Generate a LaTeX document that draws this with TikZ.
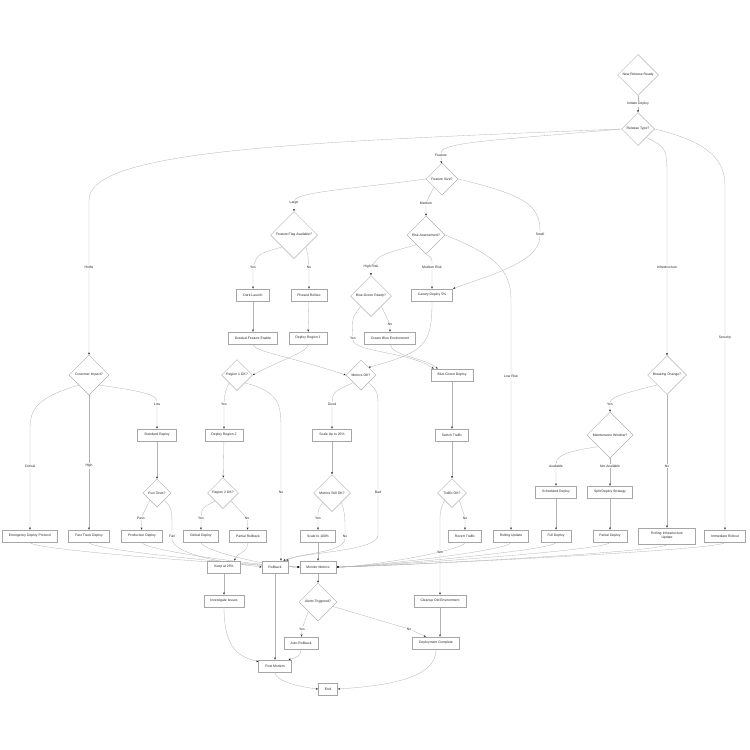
\documentclass[tikz,border=0pt]{standalone}
\usepackage{fontspec}
\setmainfont{Liberation Sans}
\usetikzlibrary{shapes.geometric,arrows.meta}
\pgfdeclarelayer{edges}
\pgfsetlayers{edges,main}

\begin{document}
\begin{tikzpicture}[x=1pt, y=1pt,
    every node/.style={font=\fontsize{3.4}{4.2}\selectfont, text=black!85},
    box/.style={rectangle, draw=black!35, line width=0.75pt, fill=white, minimum height=12pt, inner xsep=6.5pt, inner ysep=1pt},
    decision/.style={diamond, aspect=1, draw=black!30, line width=0.5pt, fill=white, inner sep=0pt, minimum size=#1},
    lbl/.style={inner sep=0.8pt},
    flow/.style={draw=black!30, line width=0.3pt, -{Stealth[length=2.2pt, width=1.9pt, color=black!85]}}]
    \useasboundingbox (0,0) rectangle (750,-750);

    % top of the release flow
    \node[decision=41pt] (new) at (638,-75) {New Release Ready};
    \node[decision=33pt] (rtype) at (638,-129) {Release Type?};
    \node[decision=32pt] (fsize) at (442,-179) {Feature Size?};
    \node[decision=47pt] (flag) at (294,-235) {Feature Flag Available?};
    \node[decision=38pt] (risk) at (426,-235) {Risk Assessment?};
    \node[box] (dark) at (253,-295) {Dark Launch};
    \node[box] (phased) at (309,-295) {Phased Rollout};
    \node[decision=41pt] (bgready) at (371,-296) {Blue-Green Ready?};
    \node[box] (canary) at (432,-295) {Canary Deploy 5\%};
    \node[box] (gradual) at (253,-338) {Gradual Feature Enable};
    \node[box] (region1) at (308,-338) {Deploy Region 1};
    \node[box] (createblue) at (390,-338) {Create Blue Environment};

    % middle
    \node[decision=40pt] (impact) at (89,-375) {Customer Impact?};
    \node[decision=31pt] (r1ok) at (237,-375) {Region 1 OK?};
    \node[decision=30pt] (metricsok) at (361,-375) {Metrics OK?};
    \node[box] (bgdeploy) at (452,-375) {Blue-Green Deploy};
    \node[decision=39pt] (brk) at (667,-375) {Breaking Change?};
    \node[box] (standard) at (157,-435) {Standard Deploy};
    \node[box] (region2) at (224,-435) {Deploy Region 2};
    \node[box] (scale25) at (332,-435) {Scale Up to 25\%};
    \node[box] (switch) at (452,-435) {Switch Traffic};
    \node[decision=46pt] (maint) at (610,-435) {Maintenance Window?};
    \node[decision=28pt] (tests) at (157,-493) {Run Tests?};
    \node[decision=31pt] (r2ok) at (223,-493) {Region 2 OK?};
    \node[decision=37pt] (stillok) at (332,-493) {Metrics Still OK?};
    \node[decision=29pt] (trafficok) at (452,-493) {Traffic OK?};
    \node[box] (sched) at (556,-492) {Scheduled Deploy};
    \node[box] (split) at (610,-492) {Split Deploy Strategy};

    % row of deploy steps
    \node[box] (emerg) at (30,-536) {Emergency Deploy Protocol};
    \node[box] (fast) at (89,-536) {Fast Track Deploy};
    \node[box] (prod) at (142,-536) {Production Deploy};
    \node[box] (global) at (201,-536) {Global Deploy};
    \node[box] (partrb) at (248,-536) {Partial Rollback};
    \node[box] (scale100) at (318,-536) {Scale to 100\%};
    \node[box] (revert) at (465,-536) {Revert Traffic};
    \node[box] (rolling) at (511,-536) {Rolling Update};
    \node[box] (full) at (556,-536) {Full Deploy};
    \node[box] (partdep) at (610,-536) {Partial Deploy};
    \node[box, text width=44pt, align=center, minimum height=16pt] (infraupd) at (667,-536) {Rolling Infrastructure\\Update};
    \node[box] (immed) at (725,-536) {Immediate Rollout};

    % bottom
    \node[box] (keep25) at (224,-567) {Keep at 25\%};
    \node[box] (rollback) at (275,-567) {Rollback};
    \node[box] (monitor) at (318,-567) {Monitor Metrics};
    \node[box] (investigate) at (224,-601) {Investigate Issues};
    \node[decision=38pt] (alerts) at (318,-602) {Alerts Triggered?};
    \node[box] (cleanup) at (440,-601) {Cleanup Old Environment};
    \node[box] (autorb) at (301,-643) {Auto Rollback};
    \node[box] (complete) at (436,-643) {Deployment Complete};
    \node[box] (postmortem) at (275,-666) {Post Mortem};
    \node[box] (finish) at (328,-689) {End};

    % edge labels
    \node[lbl] (lInit) at (638,-104) {Initiate Deploy};
    \node[lbl] (lHotfix) at (89,-267) {Hotfix};
    \node[lbl] (lFeature) at (441,-155) {Feature};
    \node[lbl] (lInfra) at (667,-267) {Infrastructure};
    \node[lbl] (lSec) at (725,-338) {Security};
    \node[lbl] (lLarge) at (294,-203) {Large};
    \node[lbl] (lMedium) at (426,-203) {Medium};
    \node[lbl] (lSmall) at (540,-234) {Small};
    \node[lbl] (lYesFlag) at (253,-267) {Yes};
    \node[lbl] (lNoFlag) at (309,-267) {No};
    \node[lbl] (lHighRisk) at (371,-267) {High Risk};
    \node[lbl] (lMedRisk) at (432,-267) {Medium Risk};
    \node[lbl] (lLowRisk) at (511,-376) {Low Risk};
    \node[lbl] (lYesBG) at (353,-338) {Yes};
    \node[lbl] (lNoBG) at (390,-324) {No};
    \node[lbl] (lCritical) at (30,-466) {Critical};
    \node[lbl] (lHigh) at (89,-466) {High};
    \node[lbl] (lLow) at (157,-404) {Low};
    \node[lbl] (lYesR1) at (224,-404) {Yes};
    \node[lbl] (lNoR1) at (281,-492) {No};
    \node[lbl] (lPass) at (141,-518) {Pass};
    \node[lbl] (lFail) at (172,-536) {Fail};
    \node[lbl] (lYesR2) at (201,-518) {Yes};
    \node[lbl] (lNoR2) at (247,-518) {No};
    \node[lbl] (lGood) at (332,-404) {Good};
    \node[lbl] (lBad) at (378,-492) {Bad};
    \node[lbl] (lYesStill) at (318,-518) {Yes};
    \node[lbl] (lNoStill) at (345,-536) {No};
    \node[lbl] (lYesTraffic) at (440,-552) {Yes};
    \node[lbl] (lNoTraffic) at (465,-518) {No};
    \node[lbl] (lYesBrk) at (610,-404) {Yes};
    \node[lbl] (lNoBrk) at (667,-466) {No};
    \node[lbl] (lAvail) at (556,-466) {Available};
    \node[lbl] (lNotAvail) at (610,-466) {Not Available};
    \node[lbl] (lYesAlert) at (302,-629) {Yes};
    \node[lbl] (lNoAlert) at (409,-629) {No};

    \begin{pgfonlayer}{edges}
    \fill[white] (0,0) rectangle (750,-750);
    % from the release type
    \draw[flow] (new) -- (lInit) -- (rtype);
    \draw[flow] (rtype.west) .. controls (300,-142) and (89,-150) .. (89,-200) -- (lHotfix) -- (impact);
    \draw[flow] (rtype.west) .. controls (500,-140) and (441,-142) .. (lFeature) -- (fsize);
    \draw[flow] (rtype.south east) .. controls (667,-148) .. (667,-180) -- (lInfra) -- (brk);
    \draw[flow] (rtype.east) .. controls (700,-140) and (725,-155) .. (725,-185) -- (lSec) -- (immed);
    % feature branch
    \draw[flow] (fsize.west) .. controls (360,-188) and (296,-192) .. (lLarge) -- (flag);
    \draw[flow] (fsize.south west) -- (lMedium) -- (risk);
    \draw[flow] (fsize.east) .. controls (525,-195) and (540,-205) .. (lSmall) .. controls (540,-262) and (490,-275) .. (canary.north east);
    \draw[flow] (flag.south west) .. controls (258,-254) .. (lYesFlag) -- (dark);
    \draw[flow] (flag.south east) .. controls (308,-255) .. (lNoFlag) -- (phased);
    \draw[flow] (risk.south west) .. controls (380,-255) .. (lHighRisk) -- (bgready);
    \draw[flow] (risk.south) .. controls (432,-258) .. (lMedRisk) -- (canary);
    \draw[flow] (risk.east) .. controls (495,-255) and (511,-270) .. (511,-300) -- (lLowRisk) -- (rolling);
    \draw[flow] (bgready.south west) .. controls (352,-318) .. (lYesBG) .. controls (354,-352) and (410,-352) .. ([xshift=3pt]bgdeploy.north west);
    \draw[flow] (bgready.south east) -- (lNoBG) -- (createblue);
    \draw[flow] (createblue.south) .. controls (392,-356) and (425,-358) .. ([xshift=7pt]bgdeploy.north west);
    \draw[flow] (dark) -- (gradual);
    \draw[flow] (phased) -- (region1);
    \draw[flow] (gradual.south) .. controls (255,-352) and (285,-355) .. (metricsok.west);
    \draw[flow] (region1.south) .. controls (308,-352) and (285,-358) .. (r1ok.east);
    \draw[flow] (canary.south) .. controls (432,-345) and (425,-352) .. (metricsok.north east);
    \draw[flow] (bgdeploy) -- (switch);
    \draw[flow] (switch) -- (trafficok);
    \draw[flow] (r1ok.south west) .. controls (225,-392) .. (lYesR1) -- (region2);
    \draw[flow] (r1ok.south east) .. controls (280,-392) and (281,-405) .. (281,-430) -- (lNoR1) -- ([xshift=6pt]rollback.north);
    \draw[flow] (region2) -- (r2ok);
    \draw[flow] (r2ok.south west) .. controls (202,-508) .. (lYesR2) -- (global);
    \draw[flow] (r2ok.south east) -- (lNoR2) -- (partrb);
    \draw[flow] (metricsok.south west) .. controls (333,-392) .. (lGood) -- (scale25);
    \draw[flow] (metricsok.south east) .. controls (378,-392) .. (378,-410) -- (lBad) -- (378,-535) .. controls (378,-552) and (300,-552) .. ([xshift=-2pt]rollback.north east);
    \draw[flow] (scale25) -- (stillok);
    \draw[flow] (stillok.south west) .. controls (318,-510) .. (lYesStill) -- (scale100);
    \draw[flow] (stillok.south east) .. controls (345,-514) .. (lNoStill) .. controls (345,-553) and (300,-553) .. ([xshift=-5pt]rollback.north east);
    \draw[flow] (trafficok.south west) .. controls (440,-510) .. (440,-525) -- (lYesTraffic) -- (cleanup);
    \draw[flow] (trafficok.south east) -- (lNoTraffic) -- (revert);
    % hotfix branch
    \draw[flow] (impact.south west) .. controls (35,-398) and (30,-410) .. (30,-430) -- (lCritical) -- (emerg);
    \draw[flow] (impact) -- (lHigh) -- (fast);
    \draw[flow] (impact.south east) .. controls (150,-392) and (157,-396) .. (lLow) -- (standard);
    \draw[flow] (standard) -- (tests);
    \draw[flow] (tests.south west) -- (lPass) -- (prod);
    \draw[flow] (tests.south east) .. controls (172,-508) .. (lFail) .. controls (172,-556) and (235,-564) .. (rollback.west);
    % infrastructure branch
    \draw[flow] (brk.south west) .. controls (625,-393) and (611,-397) .. (lYesBrk) -- (maint);
    \draw[flow] (brk) -- (lNoBrk) -- (infraupd);
    \draw[flow] (maint.south west) .. controls (560,-452) and (556,-458) .. (lAvail) -- (sched);
    \draw[flow] (maint) -- (lNotAvail) -- (split);
    \draw[flow] (sched) -- (full);
    \draw[flow] (split) -- (partdep);
    % into monitoring
    \draw[flow] (scale100) -- (monitor);
    \draw[flow] (emerg.south) .. controls +(0,-8) and +(-30,0) .. (monitor.west);
    \draw[flow] (fast.south) .. controls +(0,-8) and +(-30,0) .. (monitor.west);
    \draw[flow] (prod.south) .. controls +(0,-8) and +(-30,0) .. (monitor.west);
    \draw[flow] (global.south) .. controls +(0,-8) and +(-30,0) .. (monitor.west);
    \draw[flow] (revert.south) .. controls +(0,-8) and +(30,0) .. (monitor.east);
    \draw[flow] (rolling.south) .. controls +(0,-8) and +(30,0) .. (monitor.east);
    \draw[flow] (full.south) .. controls +(0,-8) and +(30,0) .. (monitor.east);
    \draw[flow] (partdep.south) .. controls +(0,-8) and +(30,0) .. (monitor.east);
    \draw[flow] (infraupd.south) .. controls +(0,-8) and +(30,0) .. (monitor.east);
    \draw[flow] (immed.south) .. controls +(0,-8) and +(30,0) .. (monitor.east);
    % wrap up
    \draw[flow] (partrb.south) .. controls (248,-553) and (236,-553) .. ([xshift=-6pt]keep25.north east);
    \draw[flow] (keep25) -- (investigate);
    \draw[flow] (monitor) -- (alerts);
    \draw[flow] (alerts.south west) -- (lYesAlert) -- (autorb);
    \draw[flow] (alerts) -- (lNoAlert) -- ([xshift=-10pt]complete.north);
    \draw[flow] (cleanup.south) -- (cleanup.south |- complete.north);
    \draw[flow] (investigate.south) .. controls (224,-650) and (240,-657) .. ([yshift=-2pt]postmortem.north west);
    \draw[flow] (rollback) -- (postmortem);
    \draw[flow] (autorb.south) .. controls (301,-656) and (296,-658) .. ([xshift=-3pt]postmortem.north east);
    \draw[flow] (postmortem.south) .. controls (275,-681) and (300,-687) .. (finish.west);
    \draw[flow] (complete.south) .. controls (436,-675) and (400,-685) .. (finish.east);
    \end{pgfonlayer}
\end{tikzpicture}
\end{document}
